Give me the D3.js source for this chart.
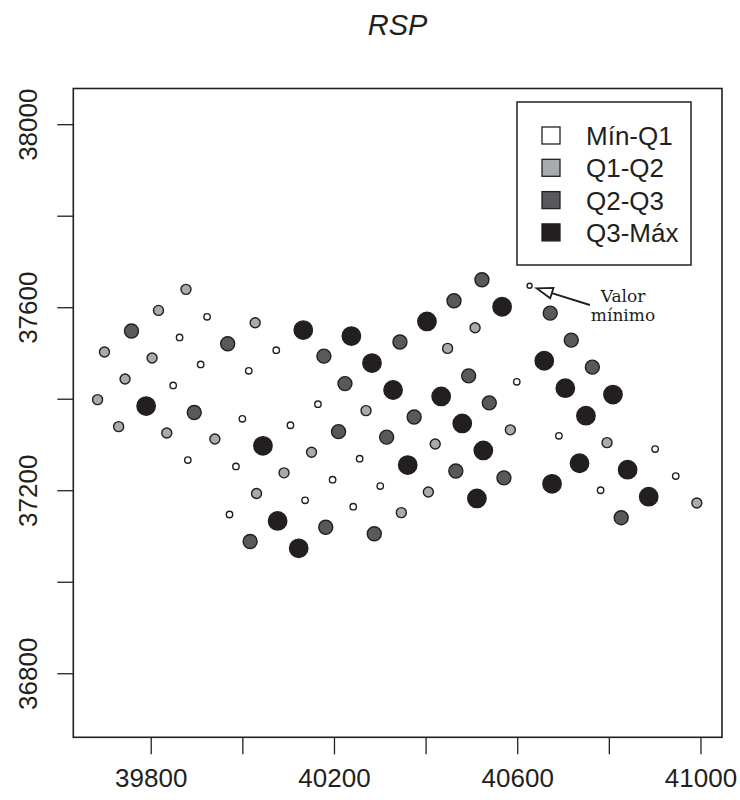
<!DOCTYPE html>
<html>
<head>
<meta charset="utf-8">
<script src="https://cdn.jsdelivr.net/npm/d3@7"></script>
<style>
  body { margin: 0; background: #fff; }
  text { font-family: "Liberation Sans", Arial, Helvetica, sans-serif; fill: #231f20; }
</style>
</head>
<body>
<div id="chart"></div>
<script>
// sample locations (easting / northing) and RSP quartile class of each point
let este = [39877, 39817, 39923, 39758, 39863, 40028, 40133, 40238, 40344, 39699,
            39803, 39968, 40074, 39909, 40014, 40178, 40283, 39744, 39849, 40224,
            40329, 39684, 39790, 39895, 40165, 40270, 40000, 40105, 39730, 39835,
            40210, 40315, 39940, 40045, 39881, 39986, 40151, 40256, 40361, 40091,
            40197, 40301, 40031, 40137, 40242, 40347, 39972, 40077, 40182, 40288,
            40017, 40123, 40523, 40627, 40462, 40567, 40672, 40403, 40508, 40448,
            40718, 40659, 40764, 40494, 40599, 40434, 40705, 40809, 40539, 40375,
            40480, 40750, 40585, 40691, 40421, 40526, 40796, 40901, 40466, 40571,
            40736, 40841, 40946, 40406, 40512, 40676, 40782, 40887, 40992, 40827]
let norte = [37639, 37593, 37579, 37548, 37534, 37566, 37550, 37537, 37524, 37502,
             37489, 37520, 37506, 37475, 37461, 37493, 37478, 37443, 37429, 37433,
             37419, 37398, 37384, 37370, 37388, 37374, 37356, 37342, 37339, 37325,
             37328, 37316, 37312, 37297, 37266, 37252, 37283, 37269, 37255, 37238,
             37223, 37209, 37193, 37178, 37164, 37151, 37147, 37133, 37119, 37105,
             37088, 37073, 37660, 37647, 37614, 37601, 37587, 37569, 37555, 37510,
             37528, 37483, 37469, 37450, 37437, 37405, 37423, 37409, 37391, 37360,
             37346, 37363, 37332, 37319, 37301, 37287, 37304, 37290, 37242, 37227,
             37259, 37245, 37231, 37196, 37182, 37214, 37200, 37186, 37172, 37140]
let quartil = [1, 1, 0, 2, 0, 1, 3, 3, 2, 1,
               1, 2, 0, 0, 0, 2, 3, 1, 0, 2,
               3, 1, 3, 2, 0, 1, 0, 0, 1, 1,
               2, 2, 1, 3, 0, 0, 1, 0, 3, 1,
               0, 0, 1, 0, 0, 1, 0, 3, 2, 2,
               2, 3, 2, 0, 2, 3, 2, 3, 1, 1,
               2, 3, 2, 2, 0, 3, 3, 3, 2, 2,
               3, 3, 1, 0, 1, 3, 1, 0, 2, 2,
               3, 3, 0, 1, 3, 3, 0, 3, 1, 2]
// index of the minimum value
let minIndex = 53

let legendLabels = ['Mín-Q1', 'Q1-Q2', 'Q2-Q3', 'Q3-Máx']
let xTicks = [39800, 40000, 40200, 40400, 40600, 40800, 41000]
let xTickLabels = ['39800', '', '40200', '', '40600', '', '41000']
let yTicks = [36800, 37000, 37200, 37400, 37600, 37800, 38000]
let yTickLabels = ['36800', '', '37200', '', '37600', '', '38000']

const points = este.map((e, i) => ({x: e, y: norte[i], q: quartil[i], min: i === minIndex}))

const margin = {top: 88.5, left: 73.3}
const plotWidth = 648.7
const plotHeight = 648.8
const ink = '#231f20'

const fills = ['#ffffff', '#a9aaac', '#58595b', '#231f20']
const radii = [3.2, 5, 7, 9.2]

const svg = d3.select('#chart')
  .append('svg')
    .attr('width', 740)
    .attr('height', 800)

const g = svg.append('g')
    .attr('transform', 'translate(' + margin.left + ',' + margin.top + ')')

const xScale = d3.scaleLinear()
                 .domain([39631, 41047])
                 .range([0, plotWidth])
const yScale = d3.scaleLinear()
                 .domain([36660, 38078])
                 .range([plotHeight, 0])

// title
svg.append('text')
   .attr('x', margin.left + plotWidth / 2)
   .attr('y', 35)
   .attr('text-anchor', 'middle')
   .style('font-size', '29px')
   .style('font-style', 'italic')
   .text('RSP')

// axes
let xAxis = d3.axisBottom(xScale)
              .tickValues(xTicks)
              .tickFormat((d, i) => xTickLabels[i])
              .tickSizeInner(17)
              .tickSizeOuter(0)
              .tickPadding(14)
let yAxis = d3.axisLeft(yScale)
              .tickValues(yTicks)
              .tickFormat((d, i) => yTickLabels[i])
              .tickSizeInner(16)
              .tickSizeOuter(0)
              .tickPadding(20)

const gx = g.append('g')
            .attr('transform', 'translate(0,' + plotHeight + ')')
            .call(xAxis)
gx.select('.domain').remove()
gx.selectAll('line').attr('stroke', ink).attr('stroke-width', 1.3)
gx.selectAll('text')
  .style('font-size', '26px')
  .attr('fill', ink)

const gy = g.append('g').call(yAxis)
gy.select('.domain').remove()
gy.selectAll('line').attr('stroke', ink).attr('stroke-width', 1.3)
gy.selectAll('text')
  .style('font-size', '26px')
  .attr('fill', ink)
  .attr('x', 0)
  .attr('dy', 0)
  .attr('text-anchor', 'middle')
  .attr('transform', 'translate(-36,0) rotate(-90)')

// plot border
g.append('rect')
 .attr('x', 0)
 .attr('y', 0)
 .attr('width', plotWidth)
 .attr('height', plotHeight)
 .attr('fill', 'none')
 .attr('stroke', ink)
 .attr('stroke-width', 1.6)

// points
g.selectAll('circle')
 .data(points)
 .enter()
 .append('circle')
 .attr('cx', d => xScale(d.x))
 .attr('cy', d => yScale(d.y))
 .attr('r', d => d.min ? 2.5 : radii[d.q])
 .attr('fill', d => fills[d.q])
 .attr('stroke', ink)
 .attr('stroke-width', 1.4)

// legend
const legend = svg.append('g')
                  .attr('transform', 'translate(517,102)')
legend.append('rect')
      .attr('width', 174)
      .attr('height', 163)
      .attr('fill', '#fff')
      .attr('stroke', ink)
      .attr('stroke-width', 1.5)
const rows = legend.selectAll('.row')
                   .data(legendLabels)
                   .enter()
                   .append('g')
                   .attr('class', 'row')
                   .attr('transform', (d, i) => 'translate(0,' + (33.5 + i * 32.3) + ')')
rows.append('rect')
    .attr('x', 25)
    .attr('y', -8.5)
    .attr('width', 18)
    .attr('height', 17)
    .attr('fill', (d, i) => fills[i])
    .attr('stroke', ink)
    .attr('stroke-width', 1.3)
rows.append('text')
    .attr('x', 69)
    .attr('y', 9.5)
    .style('font-size', '26px')
    .text(d => d)

// annotation for the minimum value
const mp = points[minIndex]
const tipX = xScale(mp.x) + margin.left + 7
const tipY = yScale(mp.y) + margin.top + 2.6
const endX = tipX + 53.3
const endY = tipY + 16.7
const len = Math.hypot(endX - tipX, endY - tipY)
const ux = (endX - tipX) / len
const uy = (endY - tipY) / len
const bx = tipX + ux * 16
const by = tipY + uy * 16
svg.append('line')
   .attr('x1', bx)
   .attr('y1', by)
   .attr('x2', endX)
   .attr('y2', endY)
   .attr('stroke', ink)
   .attr('stroke-width', 2)
svg.append('path')
   .attr('d', 'M' + tipX + ',' + tipY +
              'L' + (bx - uy * 5.5) + ',' + (by + ux * 5.5) +
              'L' + (bx + uy * 5.5) + ',' + (by - ux * 5.5) + 'Z')
   .attr('fill', '#fff')
   .attr('stroke', ink)
   .attr('stroke-width', 1.8)
const note = svg.append('text')
                .attr('text-anchor', 'middle')
                .style('font-family', '"DejaVu Serif", serif')
                .style('font-size', '17px')
note.append('tspan').attr('x', 623).attr('y', 302).text('Valor')
note.append('tspan').attr('x', 623).attr('y', 321).text('mínimo')
</script>
</body>
</html>
